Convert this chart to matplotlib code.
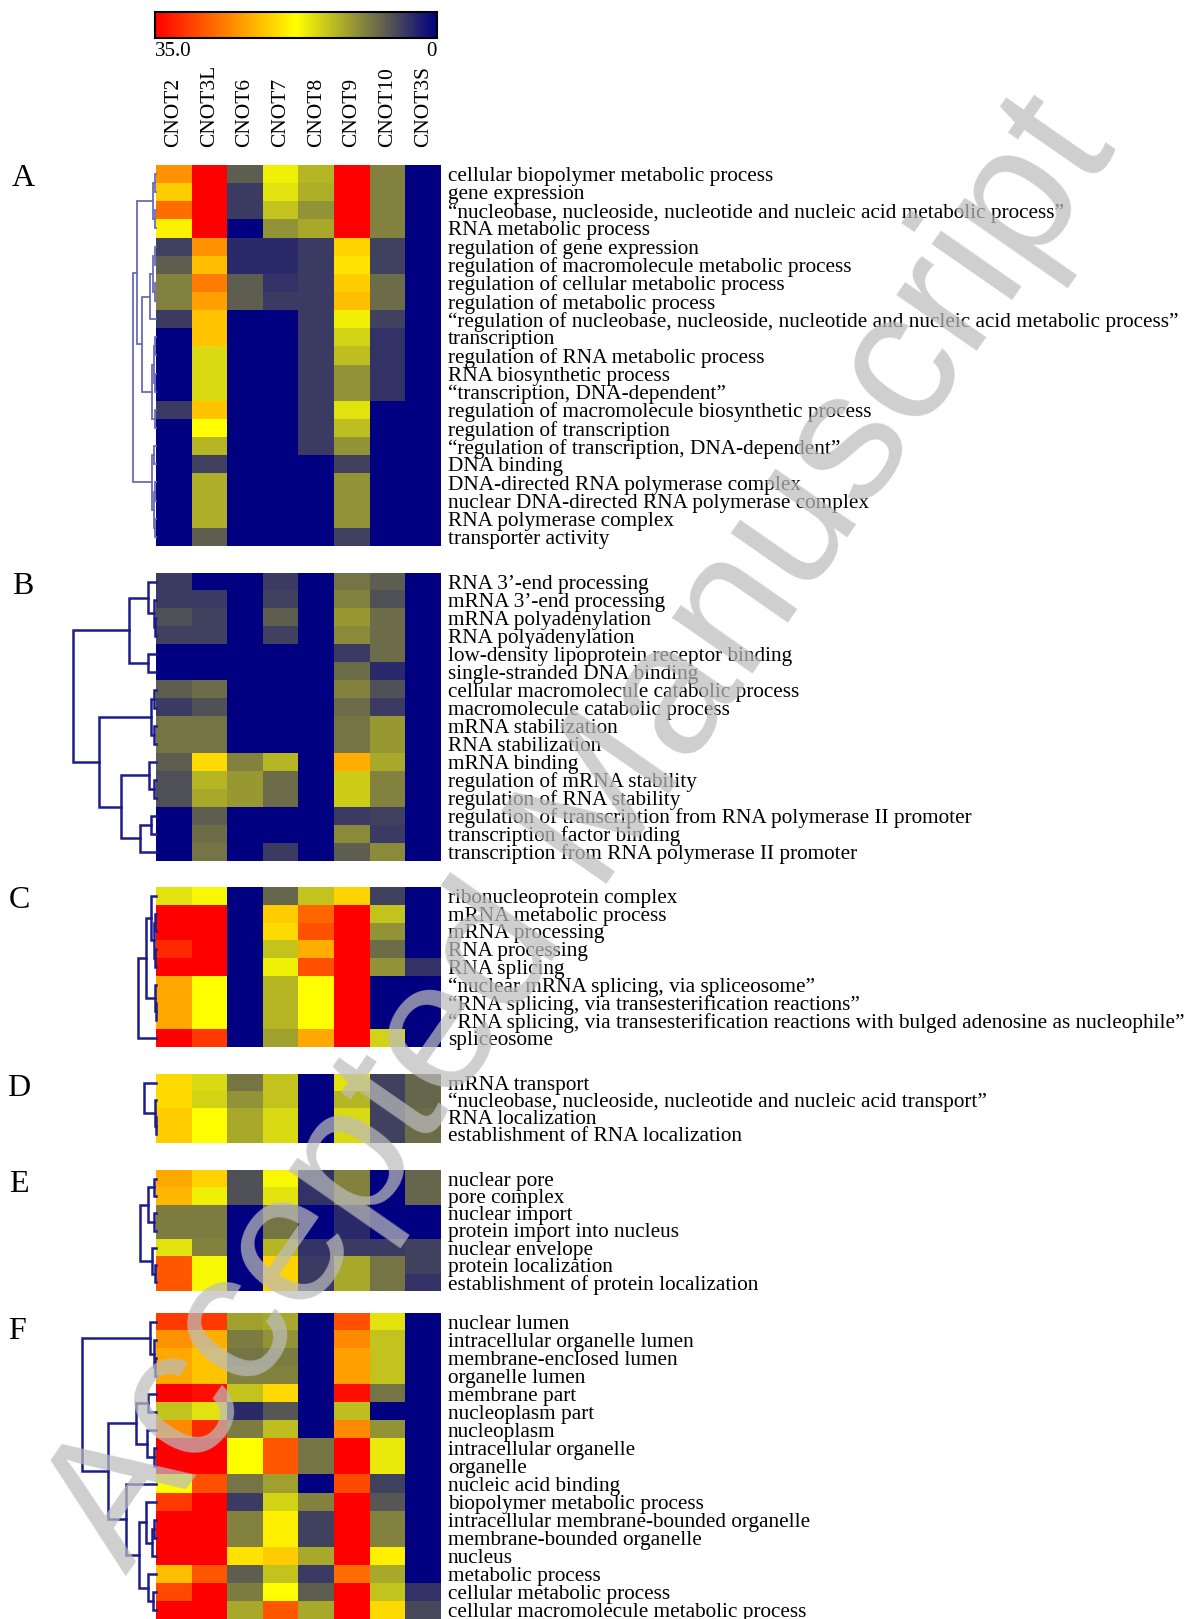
import numpy as np
import matplotlib
matplotlib.use("Agg")
import matplotlib.pyplot as plt
from matplotlib.colors import LinearSegmentedColormap

plt.rcParams['font.family'] = ['Liberation Serif', 'DejaVu Serif']

W, H = 1189, 1619

genes = ['CNOT2', 'CNOT3L', 'CNOT6', 'CNOT7', 'CNOT8', 'CNOT9', 'CNOT10', 'CNOT3S']

# ---- panel A
labels_a = [
    'cellular biopolymer metabolic process',
    'gene expression',
    '“nucleobase, nucleoside, nucleotide and nucleic acid metabolic process”',
    'RNA metabolic process',
    'regulation of gene expression',
    'regulation of macromolecule metabolic process',
    'regulation of cellular metabolic process',
    'regulation of metabolic process',
    '“regulation of nucleobase, nucleoside, nucleotide and nucleic acid metabolic process”',
    'transcription',
    'regulation of RNA metabolic process',
    'RNA biosynthetic process',
    '“transcription, DNA-dependent”',
    'regulation of macromolecule biosynthetic process',
    'regulation of transcription',
    '“regulation of transcription, DNA-dependent”',
    'DNA binding',
    'DNA-directed RNA polymerase complex',
    'nuclear DNA-directed RNA polymerase complex',
    'RNA polymerase complex',
    'transporter activity',
]
values_a = [
    [25, 35, 6.5, 16.5, 12.5, 35, 9, 0],
    [21, 35, 4, 15.5, 12, 35, 9, 0],
    [27.5, 35, 4, 13.5, 10, 35, 9, 0],
    [18.5, 35, 0, 10, 11.5, 35, 9, 0],
    [4.5, 25, 3, 3, 4, 20.5, 4.5, 0],
    [6.5, 22, 3, 3, 4, 19.5, 4.5, 0],
    [9, 26.5, 6.5, 3.5, 4, 21, 7.5, 0],
    [9, 24, 6.5, 4, 4, 22, 7.5, 0],
    [4, 21.5, 0, 0, 4, 16.5, 4.5, 0],
    [0, 21.5, 0, 0, 4, 14.5, 3.5, 0],
    [0, 15, 0, 0, 4, 13, 3.5, 0],
    [0, 15, 0, 0, 4, 10, 3.5, 0],
    [0, 15, 0, 0, 4, 10, 3.5, 0],
    [4, 21.5, 0, 0, 4, 15.5, 0, 0],
    [0, 17.5, 0, 0, 4, 13, 0, 0],
    [0, 12.5, 0, 0, 4, 10, 0, 0],
    [0, 4.5, 0, 0, 0, 4.5, 0, 0],
    [0, 12, 0, 0, 0, 10, 0, 0],
    [0, 12, 0, 0, 0, 10, 0, 0],
    [0, 12, 0, 0, 0, 10, 0, 0],
    [0, 6.5, 0, 0, 0, 4.5, 0, 0],
]
tree_a = ((((0, 1, 1), (2, 3, 1), 3),
           ((((4, 5, 1), (6, 7, 1), 3), 8, 6),
            (((9, 10, 1), (11, 12, 1), 2), (13, 14, 1), 4), 14), 19),
          ((15, 16, 2), ((17, 18, 1), (19, 20, 1), 2), 4), 23)

# ---- panel B
labels_b = [
    'RNA 3’-end processing',
    'mRNA 3’-end processing',
    'mRNA polyadenylation',
    'RNA polyadenylation',
    'low-density lipoprotein receptor binding',
    'single-stranded DNA binding',
    'cellular macromolecule catabolic process',
    'macromolecule catabolic process',
    'mRNA stabilization',
    'RNA stabilization',
    'mRNA binding',
    'regulation of mRNA stability',
    'regulation of RNA stability',
    'regulation of transcription from RNA polymerase II promoter',
    'transcription factor binding',
    'transcription from RNA polymerase II promoter',
]
values_b = [
    [4, 0, 0, 4, 0, 8, 6.5, 0],
    [4, 4, 0, 4.5, 0, 9, 5.5, 0],
    [5.5, 4.5, 0, 6.5, 0, 10.5, 7.5, 0],
    [4.5, 4.5, 0, 4.5, 0, 9.5, 7.5, 0],
    [0, 0, 0, 0, 0, 4, 7.5, 0],
    [0, 0, 0, 0, 0, 7.5, 3, 0],
    [6.5, 7.5, 0, 0, 0, 9, 5.5, 0],
    [4, 5.5, 0, 0, 0, 7.5, 4, 0],
    [8, 8, 0, 0, 0, 8, 10.5, 0],
    [8, 8, 0, 0, 0, 8, 10.5, 0],
    [6.5, 20, 9, 12.5, 0, 23, 11.5, 0],
    [5.5, 12.5, 10.5, 7.5, 0, 14, 9, 0],
    [5.5, 11.5, 10.5, 7.5, 0, 14, 9, 0],
    [0, 6.5, 0, 0, 0, 4, 4.5, 0],
    [0, 7.5, 0, 0, 0, 9.5, 4, 0],
    [0, 8, 0, 4, 0, 6.5, 9.5, 0],
]
tree_b = (((0, (1, (2, 3, 1), 2), 8), (4, 5, 8), 27),
          (((6, 7, 2), (8, 9, 2), 5),
           ((10, (11, 12, 2), 7), ((13, 14, 5), 15, 16), 35), 57), 83)

# ---- panel C
labels_c = [
    'ribonucleoprotein complex',
    'mRNA metabolic process',
    'mRNA processing',
    'RNA processing',
    'RNA splicing',
    '“nuclear mRNA splicing, via spliceosome”',
    '“RNA splicing, via transesterification reactions”',
    '“RNA splicing, via transesterification reactions with bulged adenosine as nucleophile”',
    'spliceosome',
]
values_c = [
    [15.5, 17, 0, 7, 13.5, 20.5, 4.5, 0],
    [35, 35, 0, 21, 28, 35, 13.5, 0],
    [35, 35, 0, 20, 29.5, 35, 10, 0],
    [32, 35, 0, 13.5, 23, 35, 7.5, 0],
    [35, 35, 0, 16.5, 29.5, 35, 10, 3.5],
    [23.5, 17.5, 0, 12.5, 17.5, 35, 0, 0],
    [23.5, 17.5, 0, 12.5, 17.5, 35, 0, 0],
    [23.5, 17.5, 0, 12.5, 17.5, 35, 0, 0],
    [35, 31, 0, 11, 23.5, 35, 14.5, 0],
]
tree_c = (((0, ((1, 2, 1), (3, 4, 1), 2), 5), (5, (6, 7, 0.5), 1), 10), 8, 18)

# ---- panel D
labels_d = [
    'mRNA transport',
    '“nucleobase, nucleoside, nucleotide and nucleic acid transport”',
    'RNA localization',
    'establishment of RNA localization',
]
values_d = [
    [20, 15, 8, 13.5, 0, 15.5, 4.5, 7],
    [20, 14.5, 10, 13.5, 0, 12.5, 4.5, 7],
    [21, 17.5, 11.5, 15, 0, 15, 4.5, 7.5],
    [21, 17.5, 11.5, 15, 0, 15, 4.5, 7.5],
]
tree_d = (0, (1, (2, 3, 0.5), 1), 12)

# ---- panel E
labels_e = [
    'nuclear pore',
    'pore complex',
    'nuclear import',
    'protein import into nucleus',
    'nuclear envelope',
    'protein localization',
    'establishment of protein localization',
]
values_e = [
    [23.5, 20.5, 5.5, 17, 3.5, 9, 0, 7],
    [22.5, 16.5, 5.5, 15.5, 3.5, 9, 0, 7],
    [8.5, 8.5, 0, 8, 0, 3, 0, 0],
    [8.5, 8.5, 0, 8, 0, 3, 0, 0],
    [15.5, 9, 0, 12.5, 3.5, 4, 4, 4.5],
    [29, 17, 0, 20.5, 4, 11.5, 8, 4.5],
    [29, 17, 0, 20.5, 4, 11.5, 8, 3.5],
]
tree_e = (((0, 1, 2), (2, 3, 2), 8), (4, (5, 6, 1), 4), 16)

# ---- panel F
labels_f = [
    'nuclear lumen',
    'intracellular organelle lumen',
    'membrane-enclosed lumen',
    'organelle lumen',
    'membrane part',
    'nucleoplasm part',
    'nucleoplasm',
    'intracellular organelle',
    'organelle',
    'nucleic acid binding',
    'biopolymer metabolic process',
    'intracellular membrane-bounded organelle',
    'membrane-bounded organelle',
    'nucleus',
    'metabolic process',
    'cellular metabolic process',
    'cellular macromolecule metabolic process',
]
values_f = [
    [31, 31, 11, 11.5, 0, 29.5, 15.5, 0],
    [25, 23, 8.5, 10, 0, 25.5, 13.5, 0],
    [23.5, 21.5, 8, 8.5, 0, 24, 13.5, 0],
    [23.5, 21.5, 9, 9, 0, 24, 13.5, 0],
    [35, 34, 13.5, 20, 0, 34, 8, 0],
    [13.5, 15.5, 3, 6, 0, 13, 0, 0],
    [25.5, 32, 8.5, 13, 0, 25.5, 10, 0],
    [35, 35, 17.5, 29, 8, 35, 16, 0],
    [35, 35, 17.5, 29, 8, 35, 16, 0],
    [17.5, 29.5, 8, 11, 0, 30, 4.5, 0],
    [31, 35, 4, 14.5, 9, 35, 6, 0],
    [35, 35, 9, 18.5, 4.5, 35, 9, 0],
    [35, 35, 9, 18.5, 4.5, 35, 9, 0],
    [35, 35, 19.5, 21, 11.5, 35, 18.5, 0],
    [22, 29, 6.5, 13.5, 4, 27.5, 11.5, 0],
    [30, 35, 8.5, 17.5, 6.5, 35, 13.5, 3.5],
    [35, 35, 11.5, 29, 11.5, 35, 20, 5],
]
tree_f = ((0, (1, (2, 3, 1), 2), 6),
          (((4, 5, 8), (6, (7, 8, 2), 9), 20),
           (9, ((10, ((11, 12, 2), 13, 4), 10), (14, (15, 16, 3), 8), 17), 30), 48), 74)

# layout in pixels: letter, labels, values, tree, top, bottom, letter x, letter y
panels = [
    ('A', labels_a, values_a, tree_a, 165, 546, 23, 178),
    ('B', labels_b, values_b, tree_b, 573, 861, 23, 587),
    ('C', labels_c, values_c, tree_c, 887, 1047, 19, 900),
    ('D', labels_d, values_d, tree_d, 1074, 1143, 19, 1089),
    ('E', labels_e, values_e, tree_e, 1170, 1291, 19, 1184),
    ('F', labels_f, values_f, tree_f, 1313, 1619, 17, 1331),
]

cmap = LinearSegmentedColormap.from_list(
    'rb', [(0.0, '#000080'), (0.5, '#ffff00'), (1.0, '#ff0000')])

fig = plt.figure(figsize=(W / 100, H / 100), dpi=100)


def px_axes(left, top, width, height):
    return fig.add_axes([left / W, 1 - (top + height) / H, width / W, height / H])


def draw_tree(ax, node, color, lw):
    if isinstance(node, int):
        return node, 0.0
    left, right, h = node
    y1, h1 = draw_tree(ax, left, color, lw)
    y2, h2 = draw_tree(ax, right, color, lw)
    ax.plot([h1, h, h, h2], [y1, y1, y2, y2], color=color, lw=lw,
            solid_joinstyle='miter', clip_on=False)
    return (y1 + y2) / 2, h


hx0, hx1 = 156, 441
for letter, labels, values, tree, top, bot, lx, ly in panels:
    data = np.array(values, dtype=float)
    n = len(labels)
    ax = px_axes(hx0, top, hx1 - hx0, bot - top)
    ax.imshow(data, cmap=cmap, vmin=0, vmax=35, aspect='auto',
              interpolation='nearest')
    for s in ax.spines.values():
        s.set_visible(False)
    ax.set_xticks([])
    ax.set_yticks(range(n))
    ax.set_yticklabels(labels, fontsize=15.3)
    ax.yaxis.tick_right()
    ax.tick_params(axis='y', length=0, pad=5)
    if letter == 'A':
        ax.xaxis.tick_top()
        ax.set_xticks(range(len(genes)))
        ax.set_xticklabels(genes, rotation=90, fontsize=15.5)
        ax.tick_params(axis='x', length=0, pad=13)

    # dendrogram on the left
    axd = px_axes(hx0 - 100, top, 100, bot - top)
    axd.set_xlim(100, 0)
    axd.set_ylim(n - 0.5, -0.5)
    axd.axis('off')
    if letter == 'A':
        draw_tree(axd, tree, '#6b6bb8', 1.3)
    else:
        draw_tree(axd, tree, '#1c1c8c', 1.8)

    fig.text(lx / W, 1 - ly / H, letter, fontsize=23, ha='center', va='center')

# colour bar, red (35) on the left
cax = px_axes(155, 12, 282, 26)
sm = plt.cm.ScalarMappable(cmap=cmap, norm=plt.Normalize(0, 35))
cb = fig.colorbar(sm, cax=cax, orientation='horizontal')
cax.invert_xaxis()
cb.set_ticks([35, 0])
cb.set_ticklabels(['35.0', '0'])
cax.tick_params(length=0, pad=3, labelsize=15)
tl = cax.get_xticklabels()
tl[0].set_ha('left')
tl[1].set_ha('right')
cb.outline.set_linewidth(1.5)

# watermark, anchored at the start of its baseline
fig.text(126 / W, 1 - 1576 / H, 'Accepted Manuscript', fontsize=134,
         family='Liberation Sans', color='#bcbcbc', alpha=0.72,
         rotation=55.2, ha='left', va='baseline', rotation_mode='anchor')

fig.savefig('out.png', dpi=100)
